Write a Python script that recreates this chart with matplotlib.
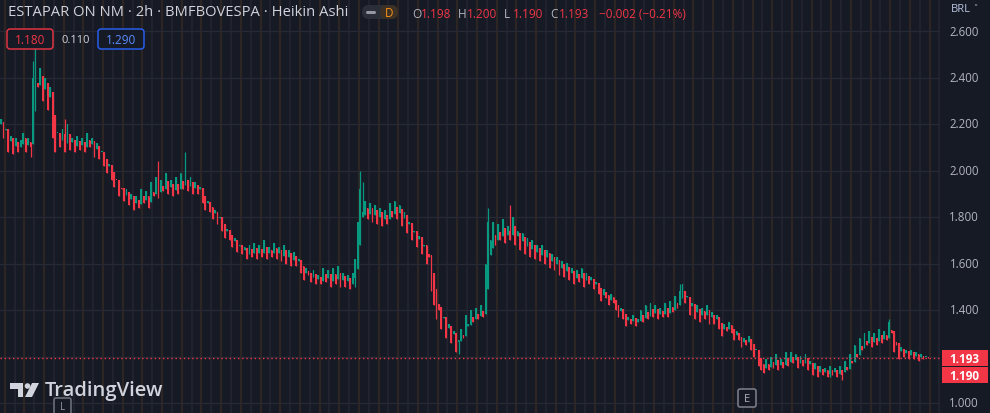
import matplotlib
matplotlib.use("Agg")
import matplotlib.pyplot as plt
from matplotlib.patches import FancyBboxPatch, Polygon, Circle
import numpy as np

# Heikin Ashi closes, 2h candles
closes = [
    2.22, 2.14, 2.18, 2.08, 2.15, 2.07, 2.14, 2.08, 2.13, 2.16,
    2.08, 2.14, 2.10, 2.40, 2.50, 2.36, 2.44, 2.30, 2.40, 2.26,
    2.36, 2.14, 2.08, 2.16, 2.10, 2.18, 2.08, 2.20, 2.09, 2.14,
    2.08, 2.15, 2.09, 2.14, 2.08, 2.16, 2.10, 2.14, 2.06, 2.12,
    2.05, 2.08, 2.02, 1.99, 2.03, 1.96, 1.93, 1.96, 1.89, 1.92,
    1.87, 1.92, 1.85, 1.90, 1.83, 1.89, 1.84, 1.92, 1.86, 1.91,
    1.84, 1.95, 1.89, 1.97, 1.88, 1.96, 1.91, 1.99, 1.90, 1.96,
    1.89, 1.97, 1.90, 1.99, 1.92, 1.98, 1.91, 1.97, 1.90, 1.95,
    1.90, 1.93, 1.86, 1.83, 1.87, 1.82, 1.79, 1.83, 1.77, 1.80,
    1.74, 1.71, 1.75, 1.70, 1.67, 1.71, 1.65, 1.68, 1.64, 1.67,
    1.62, 1.68, 1.63, 1.69, 1.62, 1.68, 1.63, 1.70, 1.62, 1.67,
    1.63, 1.69, 1.62, 1.67, 1.61, 1.68, 1.60, 1.66, 1.59, 1.65,
    1.59, 1.62, 1.56, 1.53, 1.58, 1.55, 1.52, 1.57, 1.51, 1.55,
    1.51, 1.58, 1.52, 1.57, 1.50, 1.58, 1.51, 1.59, 1.50, 1.56,
    1.50, 1.55, 1.49, 1.56, 1.62, 1.78, 1.92, 1.82, 1.87, 1.79,
    1.86, 1.78, 1.85, 1.77, 1.84, 1.76, 1.83, 1.77, 1.86, 1.80,
    1.87, 1.79, 1.85, 1.76, 1.82, 1.73, 1.78, 1.70, 1.74, 1.67,
    1.72, 1.64, 1.68, 1.60, 1.63, 1.48, 1.42, 1.36, 1.40, 1.32,
    1.37, 1.28, 1.34, 1.26, 1.31, 1.22, 1.27, 1.32, 1.28, 1.38,
    1.34, 1.40, 1.35, 1.41, 1.36, 1.42, 1.37, 1.60, 1.78, 1.70,
    1.78, 1.68, 1.77, 1.70, 1.79, 1.69, 1.76, 1.70, 1.80, 1.68,
    1.74, 1.66, 1.73, 1.64, 1.71, 1.63, 1.70, 1.62, 1.68, 1.61,
    1.68, 1.60, 1.66, 1.58, 1.64, 1.57, 1.63, 1.55, 1.61, 1.54,
    1.60, 1.53, 1.58, 1.51, 1.57, 1.52, 1.58, 1.50, 1.56, 1.51,
    1.54, 1.49, 1.52, 1.47, 1.44, 1.49, 1.45, 1.42, 1.47, 1.43,
    1.40, 1.37, 1.41, 1.36, 1.33, 1.37, 1.34, 1.38, 1.33, 1.36,
    1.40, 1.35, 1.42, 1.36, 1.43, 1.37, 1.42, 1.36, 1.41, 1.37,
    1.43, 1.37, 1.44, 1.39, 1.46, 1.41, 1.48, 1.51, 1.43, 1.46,
    1.38, 1.43, 1.36, 1.42, 1.35, 1.41, 1.36, 1.42, 1.34, 1.39,
    1.34, 1.38, 1.32, 1.29, 1.34, 1.31, 1.35, 1.30, 1.27, 1.31,
    1.27, 1.24, 1.28, 1.25, 1.29, 1.23, 1.20, 1.23, 1.16, 1.14,
    1.13, 1.19, 1.14, 1.20, 1.15, 1.21, 1.14, 1.19, 1.15, 1.22,
    1.16, 1.22, 1.17, 1.21, 1.15, 1.20, 1.16, 1.21, 1.14, 1.18,
    1.12, 1.17, 1.11, 1.16, 1.12, 1.15, 1.11, 1.16, 1.12, 1.15,
    1.11, 1.16, 1.12, 1.18, 1.14, 1.21, 1.17, 1.25, 1.20, 1.28,
    1.23, 1.30, 1.25, 1.31, 1.24, 1.30, 1.25, 1.32, 1.26, 1.31,
    1.27, 1.35, 1.30, 1.22, 1.25, 1.19, 1.24, 1.20, 1.23, 1.19,
    1.23, 1.19, 1.22, 1.18, 1.21, 1.19, 1.20, 1.193,
]
first_open = 2.20

# notable wick extremes: candle index -> price
spike_highs = {14: 2.53, 13: 2.47, 26: 2.22, 64: 2.04, 75: 2.08, 146: 2.00,
               147: 1.95, 198: 1.84, 207: 1.85, 276: 1.51, 361: 1.36}
spike_lows = {144: 1.50, 186: 1.21, 12: 2.06, 337: 1.11, 342: 1.10}

price_ticks = [1.0, 1.4, 1.6, 1.8, 2.0, 2.2, 2.4, 2.6]
grid_prices = [1.0, 1.2, 1.4, 1.6, 1.8, 2.0, 2.2, 2.4, 2.6]
last_close = 1.193
last_low = 1.190

BG = "#161a25"
UP = "#089981"
DOWN = "#f23645"
TXT = "#b2b5be"

W, H = 990, 414
fig = plt.figure(figsize=(W / 100, H / 100), dpi=100)
fig.patch.set_facecolor(BG)

# pixel mapping of price axis (2.600 at y=32, 1.000 at y=404)
ppu = (404 - 32) / 1.6
ymax = 2.6 + 32 / ppu
ymin = 2.6 - (H - 32) / ppu
step = 2.46

ax = fig.add_axes([0, 0, 940 / W, 1])
ax.set_facecolor(BG)
n = len(closes)
ax.set_xlim(-0.4, -0.4 + 940 / step)
ax.set_ylim(ymin, ymax)
for s in ax.spines.values():
    s.set_visible(False)
ax.set_xticks([])
ax.set_yticks([])

# session separators
for k, xs in enumerate(np.arange(1.5, n + 8, 4)):
    col = "#2c2523" if k % 2 == 0 else "#20232d"
    ax.axvline(xs, color=col, lw=1.6, zorder=0)
for gp in grid_prices:
    ax.axhline(gp, color="#262a35", lw=0.9, zorder=0.5)

opens = [first_open]
for i in range(1, n):
    opens.append((opens[i - 1] + closes[i - 1]) / 2)
opens = np.array(opens)
cl = np.array(closes)
hi = np.maximum(opens, cl)
lo = np.minimum(opens, cl)
for i, v in spike_highs.items():
    hi[i] = max(hi[i], v)
for i, v in spike_lows.items():
    lo[i] = min(lo[i], v)

xs = np.arange(n)
cols = [UP if c >= o else DOWN for o, c in zip(opens, cl)]
ax.vlines(xs, lo, hi, colors=cols, lw=0.9, zorder=2)
body = np.where(np.abs(cl - opens) < 0.004, 0.004, cl - opens)
ax.bar(xs, body, bottom=opens, width=0.72, color=cols, linewidth=0, zorder=3)

ax.axhline(last_close, color=DOWN, lw=1.0, ls=(0, (1, 2)), zorder=4)

# overlay in pixel coordinates
ov = fig.add_axes([0, 0, 1, 1])
ov.set_xlim(0, W)
ov.set_ylim(H, 0)
ov.axis("off")
ov.patch.set_alpha(0)

font = "Open Sans"
for p in price_ticks:
    y = 32 + (2.6 - p) * ppu
    ov.text(979, y, f"{p:.3f}", color=TXT, fontsize=8.3, ha="right", va="center", family=font)
ov.text(951, 10, "BRL", color="#b8c4e0", fontsize=8, ha="left", va="center", family=font)
ov.text(973, 9, "˅", color=TXT, fontsize=6, ha="left", va="center", family="DejaVu Sans")

for y0, val in [(351, last_close), (368, last_low)]:
    ov.add_patch(FancyBboxPatch((942, y0), 46, 16, boxstyle="square,pad=0", fc=DOWN, ec="none"))
    ov.text(979, y0 + 8.5, f"{val:.3f}", color="white", fontsize=8.5, fontweight="bold",
            ha="right", va="center", family=font)

# header
ov.text(8, 13, "ESTAPAR ON NM · 2h · BMFBOVESPA · Heikin Ashi", color="#d1d4dc",
        fontsize=10.6, ha="left", va="center", family=font)
ov.add_patch(FancyBboxPatch((362, 6), 36, 14, boxstyle="round,pad=0,rounding_size=7",
                            fc="#2a2e39", ec="none"))
ov.add_patch(FancyBboxPatch((380, 6), 18, 14, boxstyle="round,pad=0,rounding_size=7",
                            fc="#3d3025", ec="none"))
ov.plot([367, 374], [13, 13], color="#9598a1", lw=2.2, solid_capstyle="round")
ov.text(389, 13.5, "D", color="#f7931a", fontsize=8.5, ha="center", va="center", family=font)

ohlc = [("O", "1.198"), ("H", "1.200"), ("L", "1.190"), ("C", "1.193")]
xpos = 412
for lab, val in ohlc:
    ov.text(xpos, 14, lab, color=TXT, fontsize=8.5, ha="left", va="center", family=font)
    ov.text(xpos + 9, 14, val, color=DOWN, fontsize=8.5, ha="left", va="center", family=font)
    xpos += 46
ov.text(xpos + 3, 14, "−0.002 (−0.21%)", color=DOWN, fontsize=8.5, ha="left", va="center", family=font)

ov.add_patch(FancyBboxPatch((7, 30), 46, 20, boxstyle="round,pad=0,rounding_size=3",
                            fc=BG, ec=DOWN, lw=1))
ov.text(30, 40.5, "1.180", color=DOWN, fontsize=8.5, ha="center", va="center", family=font)
ov.text(76, 40.5, "0.110", color="#d1d4dc", fontsize=8, ha="center", va="center", family=font)
ov.add_patch(FancyBboxPatch((98, 30), 46, 20, boxstyle="round,pad=0,rounding_size=3",
                            fc=BG, ec="#2962ff", lw=1))
ov.text(121, 40.5, "1.290", color="#5b8cff", fontsize=8.5, ha="center", va="center", family=font)

# event markers at the bottom
ov.add_patch(FancyBboxPatch((54, 399), 17, 17, boxstyle="round,pad=0,rounding_size=2",
                            fc=BG, ec="#6a6d78", lw=1.2))
ov.text(62.5, 408, "L", color="#9598a1", fontsize=7, ha="center", va="center", family=font)
ov.add_patch(FancyBboxPatch((738, 390), 18, 18, boxstyle="round,pad=0,rounding_size=2",
                            fc=BG, ec="#787b86", lw=1.2))
ov.text(747, 399.5, "E", color="#b2b5be", fontsize=8, ha="center", va="center", family=font)

# TradingView logo
logo = "#d1d4dc"
ov.add_patch(Polygon([(10, 384), (23, 384), (23, 398), (18, 398), (18, 390), (10, 390)],
                     closed=True, fc=logo, ec="none"))
ov.add_patch(Circle((27.5, 387), 2.8, fc=logo, ec="none"))
ov.add_patch(Polygon([(32, 384), (39, 384), (32, 398), (25, 398)], closed=True, fc=logo, ec="none"))
ov.text(45, 391, "TradingView", color=logo, fontsize=14.5, fontweight="semibold",
        ha="left", va="center", family=font)

fig.savefig("out.png", dpi=100, facecolor=BG)
